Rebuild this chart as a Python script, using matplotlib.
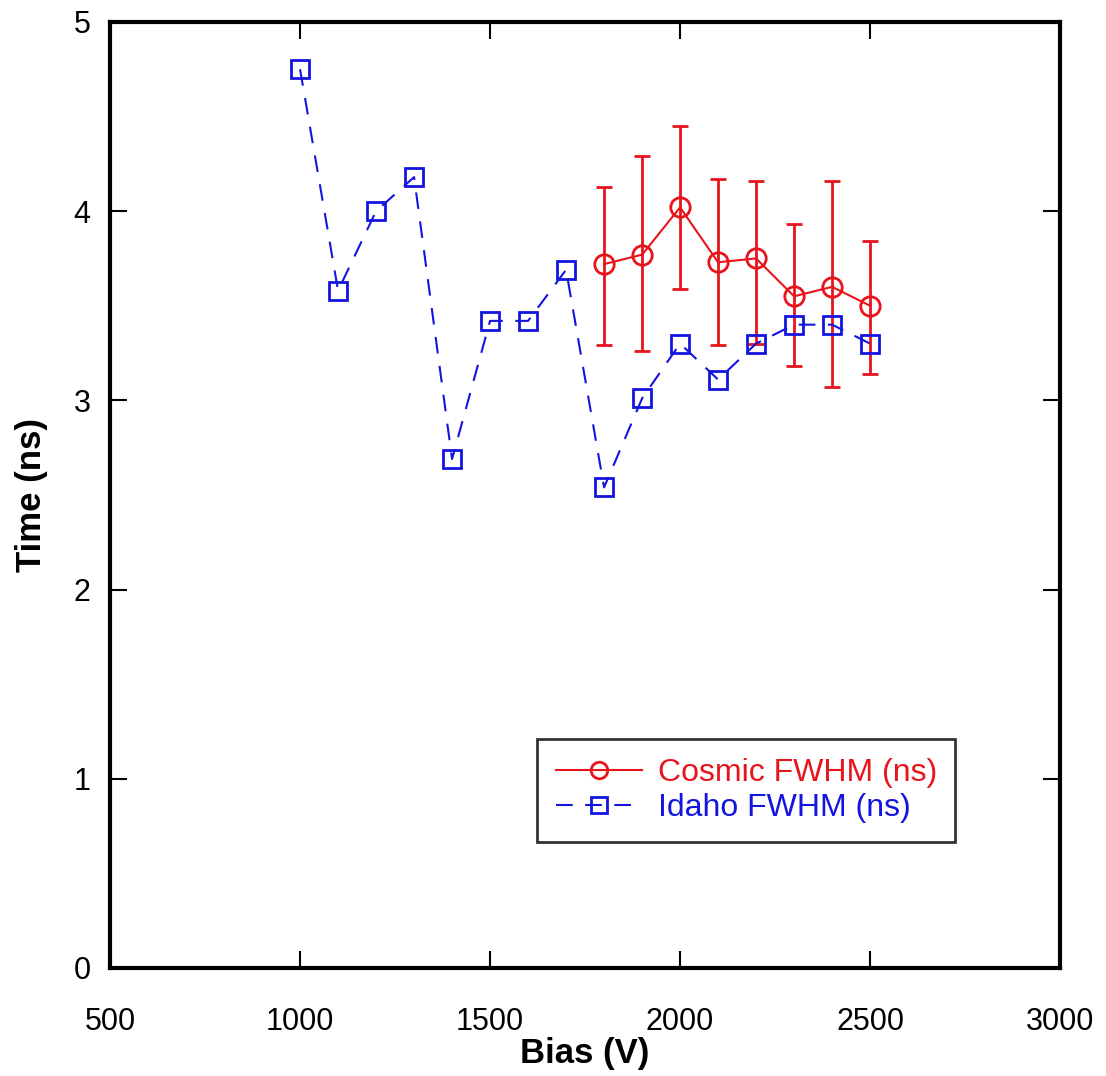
import numpy as np
import matplotlib
matplotlib.use("Agg")
import matplotlib.pyplot as plt

plt.rcParams['font.family'] = ['Liberation Sans', 'DejaVu Sans']

# Idaho FWHM (ns)
idaho_bias = [1000, 1100, 1200, 1300, 1400, 1500, 1600, 1700,
              1800, 1900, 2000, 2100, 2200, 2300, 2400, 2500]
idaho_fwhm = [4.75, 3.58, 4.00, 4.18, 2.69, 3.42, 3.42, 3.69,
              2.54, 3.01, 3.30, 3.11, 3.30, 3.40, 3.40, 3.30]

# Cosmic FWHM (ns) with error bars
cosmic_bias = [1800, 1900, 2000, 2100, 2200, 2300, 2400, 2500]
cosmic_fwhm = [3.72, 3.77, 4.02, 3.73, 3.75, 3.55, 3.60, 3.50]
cosmic_top = [4.13, 4.29, 4.45, 4.17, 4.16, 3.93, 4.16, 3.84]
cosmic_bot = [3.29, 3.26, 3.59, 3.29, 3.30, 3.18, 3.07, 3.14]

err_low = np.array(cosmic_fwhm) - np.array(cosmic_bot)
err_high = np.array(cosmic_top) - np.array(cosmic_fwhm)

red = '#e8141c'
blue = '#1414e0'

fig = plt.figure(figsize=(11.06, 10.76), dpi=100)
ax = fig.add_axes([0.0995, 0.1004, 0.8590, 0.8792])

ax.errorbar(cosmic_bias, cosmic_fwhm, yerr=[err_low, err_high], fmt='none',
            ecolor=red, elinewidth=2, capsize=6, capthick=2)
l1, = ax.plot(cosmic_bias, cosmic_fwhm, color=red, marker='o', markersize=14,
              markerfacecolor='none', markeredgewidth=2, linewidth=1.5,
              label='Cosmic FWHM (ns)')
l2, = ax.plot(idaho_bias, idaho_fwhm, color=blue, marker='s', markersize=13,
              markerfacecolor='none', markeredgewidth=2, linewidth=1.5,
              linestyle=(0, (8, 6)), label='Idaho FWHM (ns)')

ax.set_xlim(500, 3000)
ax.set_ylim(0, 5)
ax.set_xticks(np.arange(500, 3001, 500))
ax.set_yticks(np.arange(0, 6, 1))
ax.tick_params(direction='in', length=12, width=1.5, top=True, right=True,
               labelsize=22)
ax.tick_params(axis='x', pad=28)
ax.tick_params(axis='y', pad=14)
for s in ax.spines.values():
    s.set_linewidth(3)

ax.set_xlabel('Bias (V)', fontsize=25, fontweight='bold', labelpad=0)
ax.set_ylabel('Time (ns)', fontsize=25, fontweight='bold', labelpad=18)

leg = ax.legend(handles=[l1, l2], loc='lower left',
                bbox_to_anchor=(0.449, 0.133, 0.44, 0.111),
                mode='expand', fontsize=23, frameon=True, fancybox=False,
                edgecolor='black', handlelength=2.7, handletextpad=0.5,
                borderaxespad=0, borderpad=0.6, labelspacing=0.15,
                markerscale=0.85)
leg.get_frame().set_linewidth(2)
for t, c in zip(leg.get_texts(), [red, blue]):
    t.set_color(c)

fig.savefig('out.png', dpi=100)
